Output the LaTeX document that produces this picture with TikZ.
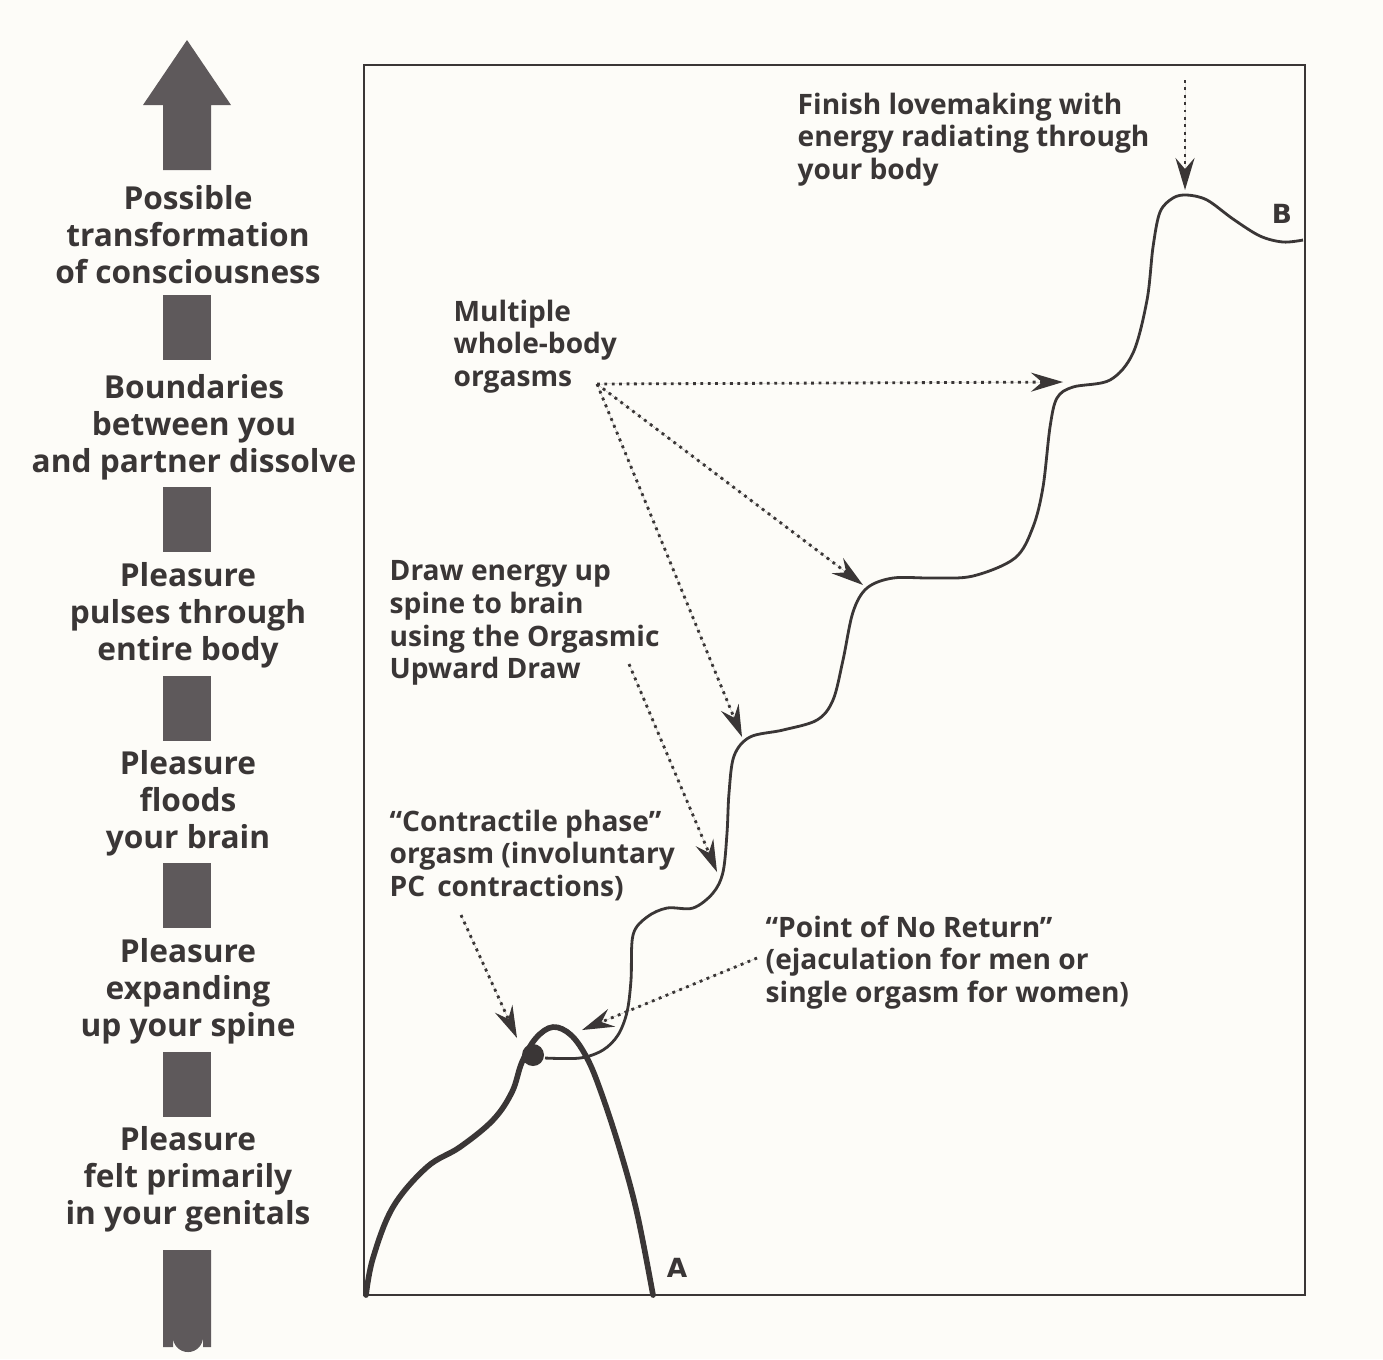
\documentclass[tikz,border=0pt]{standalone}
\usepackage{fontspec}
\setmainfont{Open Sans}
\newfontfamily\letterfont{DejaVu Sans}
\usetikzlibrary{arrows.meta, positioning}
\definecolor{ink}{HTML}{3A3636}
\definecolor{bargray}{HTML}{5E595B}
\definecolor{paper}{HTML}{FDFCF8}

\begin{document}
\begin{tikzpicture}[x=0.01cm, y=-0.01cm, >={Stealth[length=3.2mm, width=1.9mm, inset=1.1mm]},
    stage/.style={align=center, inner sep=0pt, anchor=north, text=ink, font=\fontsize{9}{10.5}\selectfont\bfseries},
    note/.style={align=left, inner sep=0pt, anchor=north west, text=ink, font=\fontsize{8}{9.3}\selectfont\bfseries},
    pointer/.style={->, draw=ink, fill=ink, line width=0.8pt, dash pattern=on 0.8pt off 1.3pt},
    endmark/.style={inner sep=0pt, text=ink, font=\letterfont\fontsize{7.5}{8}\selectfont\bfseries}]
    \fill[paper] (0,0) rectangle (1383,1359);
    \useasboundingbox (0,0) rectangle (1383,1359);

    % the rising arrow on the left
    \fill[bargray] (187,40) -- (231,105) -- (211,105) -- (211,170) -- (163,170) -- (163,105) -- (143,105) -- cycle;
    \foreach \top in {295, 487, 676, 863, 1052}
        \fill[bargray] (163,\top) rectangle (211,\top+65);
    \fill[bargray] (163,1250) -- (211,1250) -- (211,1347) -- (203,1347) -- (203,1337)
        arc[start angle=0, end angle=180, radius=15] -- (173,1347) -- (163,1347) -- cycle;

    \node[stage] (transform)  at (188,185) {Possible\\transformation\\of consciousness};
    \node[stage] (boundaries) at (194,374) {Boundaries\\between you\\and partner dissolve};
    \node[stage] (pulses)     at (188,562) {Pleasure\\pulses through\\entire body};
    \node[stage] (floods)     at (188,750) {Pleasure\\floods\\your brain};
    \node[stage] (expanding)  at (188,938) {Pleasure\\expanding\\up your spine};
    \node[stage] (genitals)   at (188,1126) {Pleasure\\felt primarily\\in your genitals};

    % frame
    \draw[ink, line width=0.7pt] (364,65) rectangle (1305,1295);

    % single orgasm (A)
    \draw[ink, line width=1.6pt, line cap=round] plot[smooth, tension=0.6] coordinates {
        (366,1295) (373,1258) (393,1207) (427,1167) (460,1147) (493,1120) (512,1092)
        (522,1062) (536,1038) (553,1027) (571,1035) (587,1058) (601,1092) (620,1150)
        (637,1213) (653,1295)};
    \fill[ink] (533,1055) circle[radius=11];

    % whole-body path (B)
    \draw[ink, line width=0.8pt] plot[smooth, tension=0.55] coordinates {
        (545,1058) (580,1058) (603,1050) (618,1035) (627,1012) (631,980) (633,935)
        (647,917) (667,908) (693,908) (713,893) (723,872) (727,833) (729,793) (734,756)
        (750,737) (783,730) (817,720) (833,700) (843,660) (853,612) (867,588) (893,578)
        (933,578) (973,576) (1015,558) (1033,527) (1043,487) (1050,427) (1057,398)
        (1073,387) (1110,380) (1133,353) (1147,300) (1153,247) (1160,212) (1173,198)
        (1187,195) (1207,200) (1233,219) (1260,236) (1283,242) (1303,240)};

    \node[endmark] (markA) at (677,1268) {A};
    \node[endmark] (markB) at (1282,214) {B};

    % notes
    \node[note] (finish)   at (797,92)  {Finish lovemaking with\\energy radiating through\\your body};
    \node[note] (multiple) at (453,299) {Multiple\\whole-body\\orgasms};
    \node[note] (drawup)   at (389,560) {Draw energy up\\spine to brain\\using the Orgasmic\\Upward Draw};
    \node[note] (contract) at (389,809) {“Contractile phase”\\orgasm (involuntary\\PC\, contractions)};
    \node[note] (noreturn) at (765,915) {“Point of No Return”\\(ejaculation for men or\\single orgasm for women)};

    % pointer ends
    \coordinate (finish-tail) at (1185,80);
    \coordinate (finish-tip)  at (1185,190);
    \coordinate (multi-tail)  at (597,384);
    \coordinate (multi-tip1)  at (1063,382);
    \coordinate (multi-tip2)  at (863,585);
    \coordinate (multi-tip3)  at (742,737);
    \coordinate (drawup-tail) at (629,664);
    \coordinate (drawup-tip)  at (717,872);
    \coordinate (contract-tail) at (461,915);
    \coordinate (contract-tip)  at (517,1038);
    \coordinate (noreturn-tail) at (757,958);
    \coordinate (noreturn-tip)  at (582,1030);

    \draw[pointer] (finish-tail) -- (finish-tip);
    \draw[pointer] (multi-tail) -- (multi-tip1);
    \draw[pointer] (multi-tail) -- (multi-tip2);
    \draw[pointer] (multi-tail) -- (multi-tip3);
    \draw[pointer] (drawup-tail) -- (drawup-tip);
    \draw[pointer] (contract-tail) -- (contract-tip);
    \draw[pointer] (noreturn-tail) -- (noreturn-tip);
\end{tikzpicture}
\end{document}
